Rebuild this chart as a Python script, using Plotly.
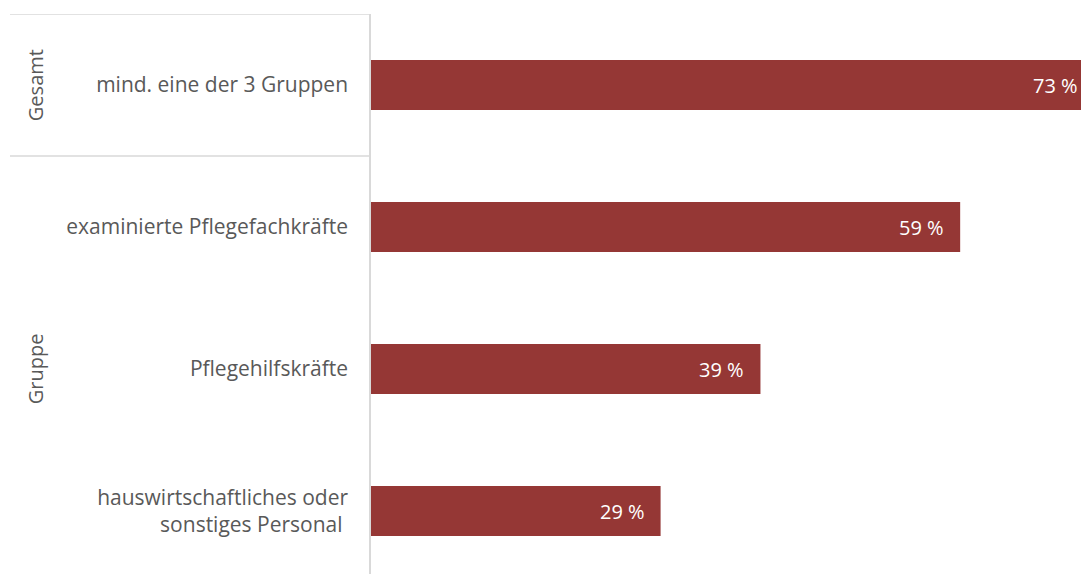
import plotly.graph_objects as go

categories = ["mind. eine der 3 Gruppen", "examinierte Pflegefachkräfte",
              "Pflegehilfskräfte", "hauswirtschaftliches oder<br>sonstiges Personal "]
values = [73, 59, 39, 29]
groups = ["Gesamt", "Gruppe"]
group_members = [[0], [1, 2, 3]]

X_MAX = 71.1
BAR_COLOR = "#953735"
FONT = "Open Sans"
GRAY = "#595959"
LINE = "#d9d9d9"
FS = 21

pos = list(range(len(categories)))

fig = go.Figure(go.Bar(
    x=values, y=pos, orientation="h", width=0.352,
    marker=dict(color=BAR_COLOR, line=dict(width=0)),
    hoverinfo="skip",
))

annotations = []
for p, v in zip(pos, values):
    clipped = v > X_MAX
    annotations.append(dict(
        x=min(v, X_MAX), y=p, xref="x", yref="y", text=f"{v} %",
        showarrow=False, xanchor="right", yanchor="middle",
        xshift=-1 if clipped else -14,
        font=dict(family=FONT, size=FS - 1, color="white"),
    ))

for g, members in zip(groups, group_members):
    annotations.append(dict(
        x=-0.473, y=(members[0] + members[-1]) / 2, xref="paper", yref="y",
        text=g, textangle=-90, showarrow=False, xanchor="center", yanchor="middle",
        font=dict(family=FONT, size=FS - 1, color=GRAY),
    ))

shapes = []
line_ys = [-0.5] + [members[-1] + 0.5 for members in group_members[:-1]]
for ly in line_ys:
    shapes.append(dict(type="line", xref="paper", yref="y", x0=-0.5085, x1=0,
                       y0=ly, y1=ly, line=dict(color=LINE, width=1.5)))

fig.update_layout(
    width=1081, height=574,
    margin=dict(l=371, r=0, t=14, b=0),
    plot_bgcolor="white", paper_bgcolor="white",
    showlegend=False,
    annotations=annotations,
    shapes=shapes,
    xaxis=dict(range=[0, X_MAX], visible=False, showgrid=False, zeroline=False),
    yaxis=dict(
        range=[3.4437, -0.5], tickvals=pos, ticktext=categories,
        showline=True, linecolor=LINE, linewidth=1.5,
        ticks="outside", ticklen=17, tickcolor="rgba(0,0,0,0)",
        showgrid=False, zeroline=False,
        tickfont=dict(family=FONT, size=FS, color=GRAY),
    ),
)

fig.write_html("out.html")
